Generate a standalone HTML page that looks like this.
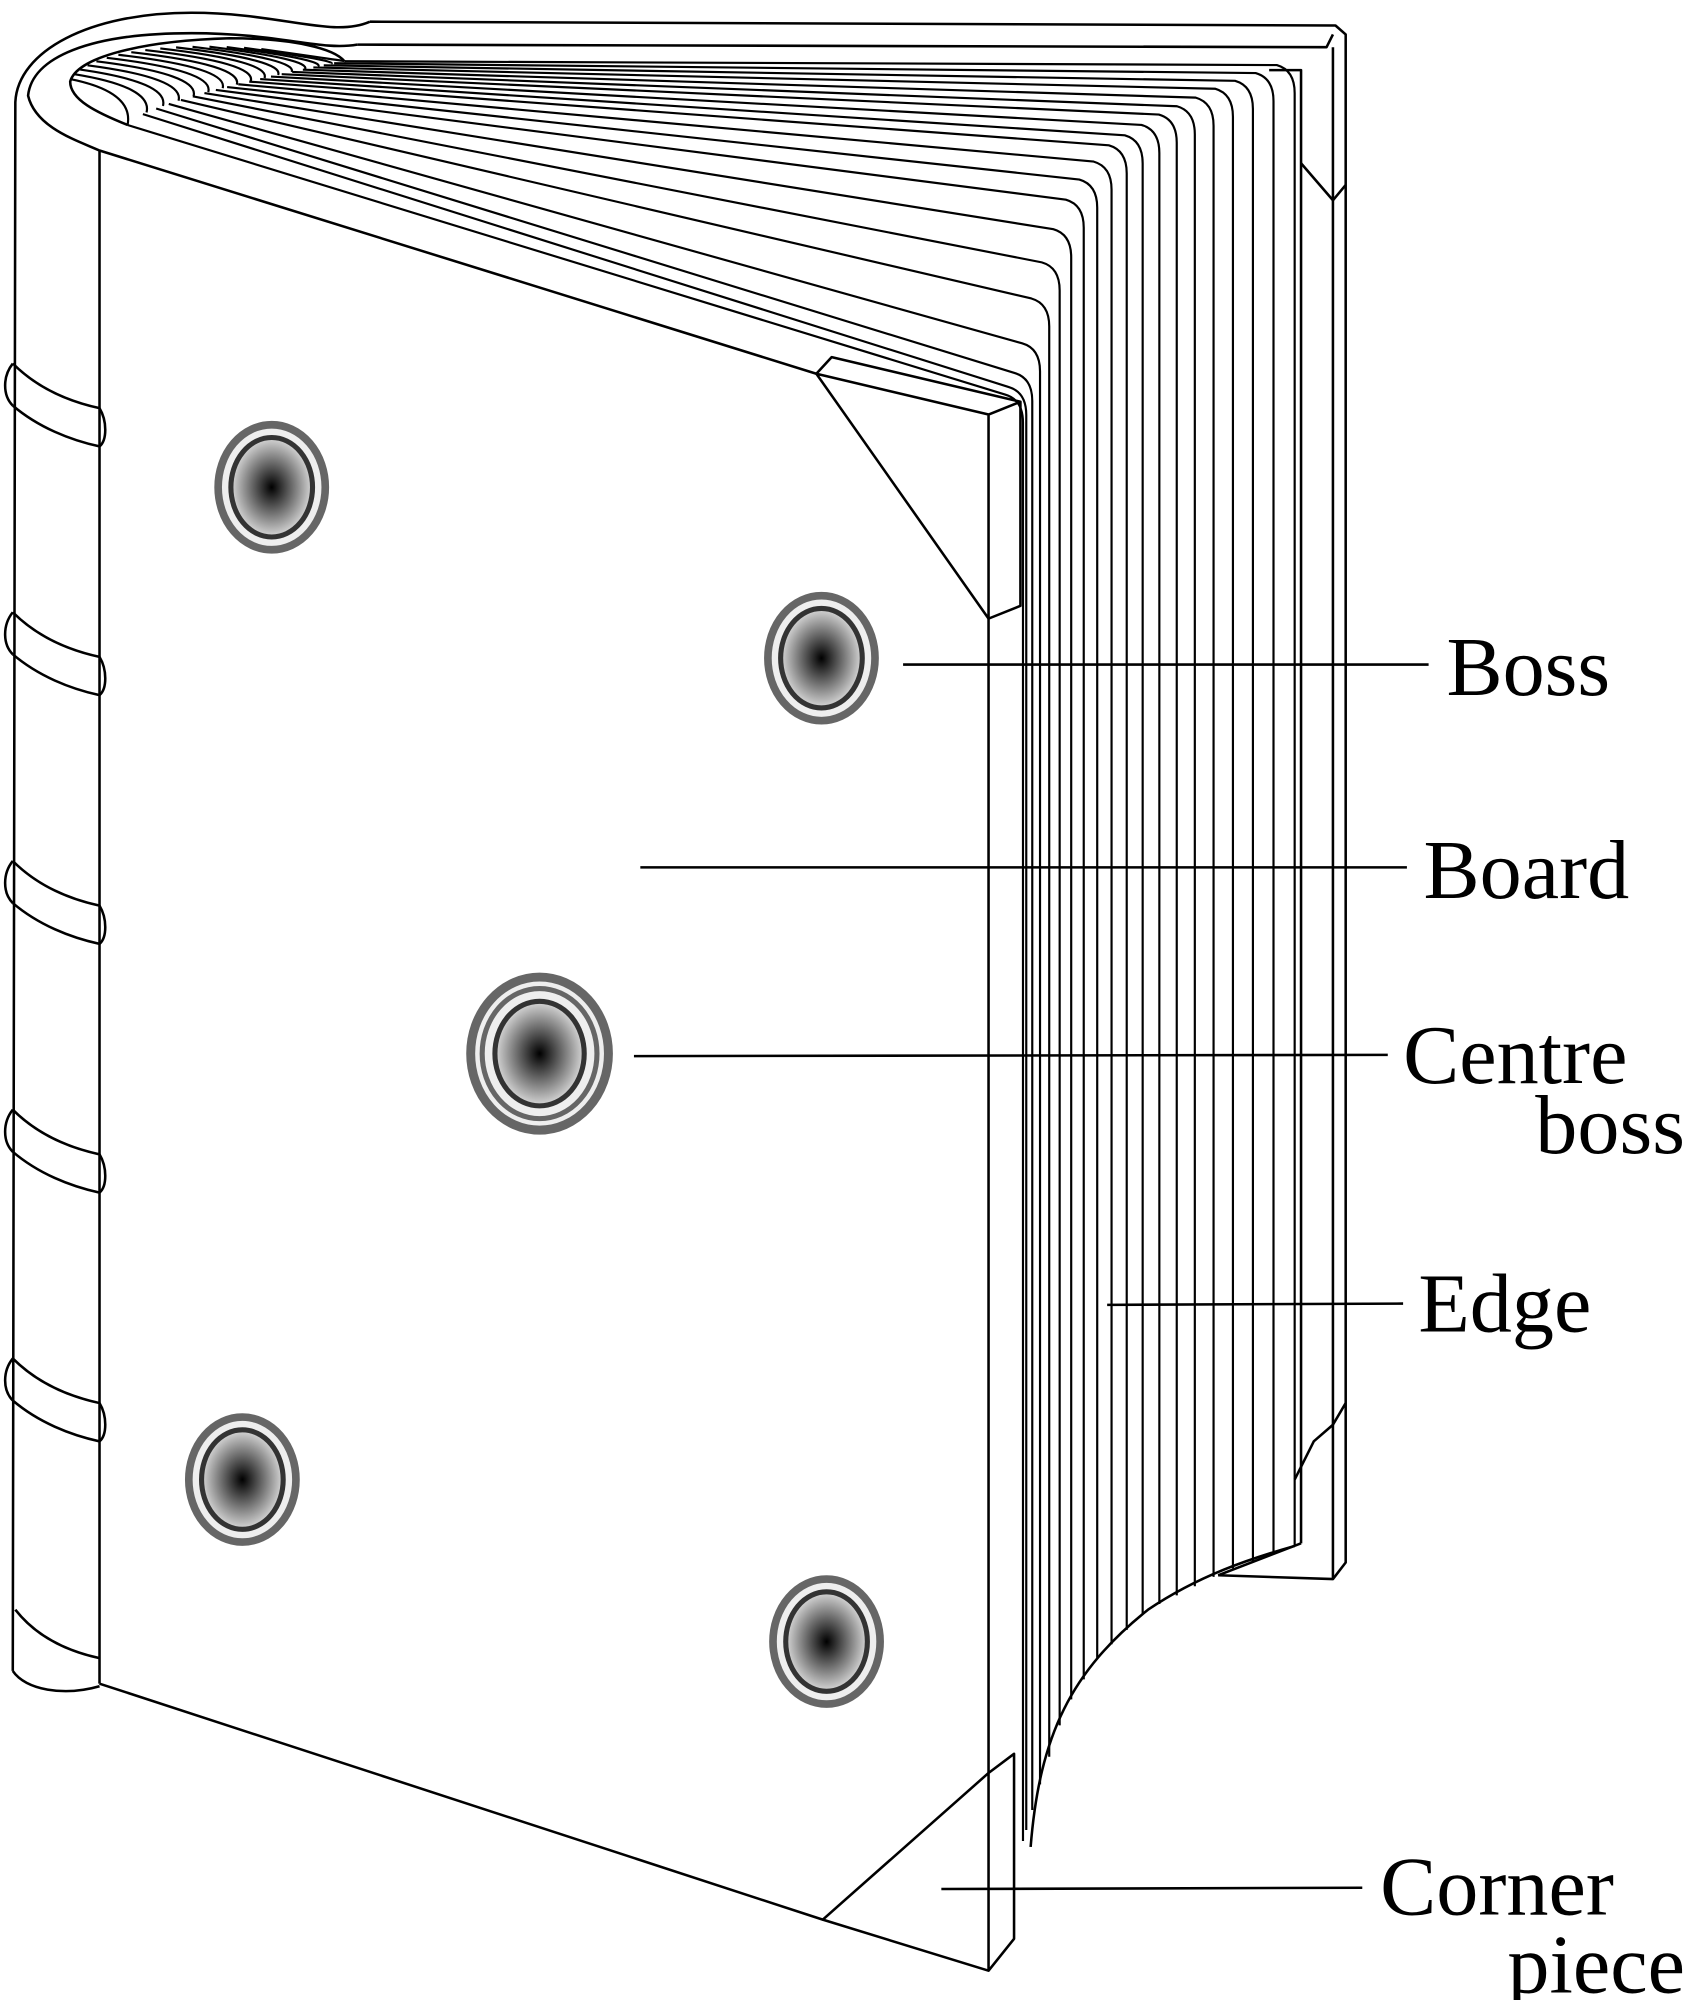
<!DOCTYPE html>
<html><head><meta charset="utf-8"><style>
html,body{margin:0;padding:0;background:#fff}
svg{display:block}
text{font-family:"Liberation Serif",serif;fill:#000}
</style></head><body>
<svg id="s" width="1685" height="2000" viewBox="0 0 1321 1568" xmlns="http://www.w3.org/2000/svg">
<defs>
<radialGradient id="g" cx="50%" cy="50%" r="50%">
<stop offset="0" stop-color="#000"/><stop offset="1" stop-color="#d8d8d8"/>
</radialGradient>
</defs>
<g fill="none" stroke="#000" stroke-width="2" stroke-linejoin="round">
<path d="M290,17 L1047,20 L1055,27 L1055,1225 L1045,1238 L955,1235"/>
<path d="M280,35 L1040,37 L1045,27 M1045,37 L1045,1238"/>
<path d="M995,55 L1020,55 L1020,1210"/>
<path d="M1020,128 L1045,157 L1055,145"/>
<path d="M1015,1160 L1030,1130 L1045,1117 L1055,1100"/>
<path d="M10,1310 L12,80 C14,40 70,10 150,10 C220,10 260,30 290,17"/>
<path d="M78,118 C60,110 28,100 22,75 C25,45 70,26 150,26 C220,26 250,40 280,35"/>
<path d="M100,98 C75,88 55,78 55,64 C60,45 110,32 180,30 C230,30 262,38 270,48"/>
<path d="M78,118 L78,1320"/>
<path d="M10,1310 C20,1325 50,1330 78,1322"/>
<path d="M78,118 L640,293"/>
<path d="M78,1320 L645,1505"/>
<path d="M775,485 L775,1390"/>
<path d="M640,293 L775,485 M640,293 L652,280 L800,315 L775,325 L640,293 M775,325 L775,485 L800,475 L800,315" fill="#fff"/>
<path d="M645,1505 L775,1390 L775,1545 Z M775,1390 L795,1375 L795,1520 L775,1545" fill="#fff"/>
<path d="M808,1448 C815,1360 840,1310 900,1262 C940,1235 980,1222 1015,1212"/>
<path d="M955,1235 L1020,1210"/>
</g>
<g id="pages" fill="none" stroke="#000" stroke-width="1.7"></g>
<g id="roll" fill="none" stroke="#000" stroke-width="1.7"></g>
<g fill="none" stroke="#000" stroke-width="2">
<path d="M10,285 C2,295 2,310 10,318 M78,320 C84,330 84,345 78,350"/>
<path d="M10,285 C30,305 55,315 78,320 M10,318 C30,335 55,345 78,350"/>
<path d="M10,480 C2,490 2,505 10,513 M78,515 C84,525 84,540 78,545"/>
<path d="M10,480 C30,500 55,510 78,515 M10,513 C30,530 55,540 78,545"/>
<path d="M10,675 C2,685 2,700 10,708 M78,710 C84,720 84,735 78,740"/>
<path d="M10,675 C30,695 55,705 78,710 M10,708 C30,725 55,735 78,740"/>
<path d="M10,870 C2,880 2,895 10,903 M78,905 C84,915 84,930 78,935"/>
<path d="M10,870 C30,890 55,900 78,905 M10,903 C30,920 55,930 78,935"/>
<path d="M10,1065 C2,1075 2,1090 10,1098 M78,1100 C84,1110 84,1125 78,1130"/>
<path d="M10,1065 C30,1085 55,1095 78,1100 M10,1098 C30,1115 55,1125 78,1130"/>
<path d="M12,1262 C30,1285 55,1295 78,1300"/>
</g>
<g>
<ellipse cx="213" cy="382" rx="42" ry="49" fill="#eee" stroke="#666" stroke-width="6"/>
<ellipse cx="213" cy="382" rx="32" ry="39" fill="url(#g)" stroke="#333" stroke-width="4"/>
<ellipse cx="644" cy="516" rx="42" ry="49" fill="#eee" stroke="#666" stroke-width="6"/>
<ellipse cx="644" cy="516" rx="32" ry="39" fill="url(#g)" stroke="#333" stroke-width="4"/>
<ellipse cx="423" cy="826" rx="54" ry="60" fill="#eee" stroke="#666" stroke-width="7"/>
<ellipse cx="423" cy="826" rx="45" ry="51" fill="none" stroke="#666" stroke-width="4"/>
<ellipse cx="423" cy="826" rx="35" ry="41" fill="url(#g)" stroke="#333" stroke-width="4"/>
<ellipse cx="190" cy="1160" rx="42" ry="49" fill="#eee" stroke="#666" stroke-width="6"/>
<ellipse cx="190" cy="1160" rx="32" ry="39" fill="url(#g)" stroke="#333" stroke-width="4"/>
<ellipse cx="648" cy="1287" rx="42" ry="49" fill="#eee" stroke="#666" stroke-width="6"/>
<ellipse cx="648" cy="1287" rx="32" ry="39" fill="url(#g)" stroke="#333" stroke-width="4"/>
</g>
<g stroke="#000" stroke-width="2">
<line x1="708" y1="521" x2="1120" y2="521"/>
<line x1="502" y1="680" x2="1103" y2="680"/>
<line x1="497" y1="828" x2="1088" y2="827"/>
<line x1="868" y1="1023" x2="1100" y2="1022"/>
<line x1="738" y1="1481" x2="1068" y2="1480"/>
</g>
<g font-size="66">
<text x="1134" y="545">Boss</text>
<text x="1116" y="704">Board</text>
<text x="1100" y="849">Centre</text>
<text x="1321" y="904" text-anchor="end">boss</text>
<text x="1112" y="1044">Edge</text>
<text x="1082" y="1501">Corner</text>
<text x="1321" y="1562" text-anchor="end">piece</text>
</g>
</svg>
<script>
(function(){
var ns="http://www.w3.org/2000/svg";
var pg=document.getElementById("pages");
function bottomY(x){
 var pts=[[800,1450],[815,1400],[835,1340],[860,1300],[900,1262],[960,1232],[1015,1212]];
 for(var i=0;i<pts.length-1;i++){
  if(x<=pts[i+1][0]){var a=pts[i],b=pts[i+1];var t=(x-a[0])/(b[0]-a[0]);return a[1]+t*(b[1]-a[1]);}
 }
 return 1212;
}
function topY(x){
 var pts=[[800,318],[812,290],[822,240],[835,195],[852,155],[880,120],[920,95],[970,72],[1015,55]];
 for(var i=0;i<pts.length-1;i++){
  if(x<=pts[i+1][0]){var a=pts[i],b=pts[i+1];var t=(x-a[0])/(b[0]-a[0]);return a[1]+t*(b[1]-a[1]);}
 }
 return 55;
}
var N=20;
for(var i=0;i<N;i++){
 var t=i/(N-1);
 var s=Math.pow(t,1.5);
 var x=802+213*s;
 var Ty=topY(x);
 var Sx=100+170*Math.pow(t,0.9), Sy=98-50*Math.pow(t,0.6);
 var by=bottomY(x);
 var d="M"+Sx+","+Sy+" L"+(x-14)+","+(Ty-4)+" Q"+x+","+(Ty)+" "+x+","+(Ty+18)+" L"+x+","+by;
 var p=document.createElementNS(ns,"path");p.setAttribute("d",d);pg.appendChild(p);
}
var rl=document.getElementById("roll");
for(var j=0;j<16;j++){
 var u=j/15;
 // top boundary point on roll opening
 var a=Math.PI*(1-u*0.55);
 var tx=150+95*Math.cos(a)+40*u, ty=62-34*Math.sin(a)*(1-0.3*u);
 var bx=100+170*Math.pow(u,0.9), by=98-50*Math.pow(u,0.6);
 var d="M"+tx+","+ty+" Q"+(bx+5)+","+(ty+10)+" "+bx+","+by;
 var p=document.createElementNS(ns,"path");p.setAttribute("d",d);rl.appendChild(p);
}
})();
</script>
</body></html>
